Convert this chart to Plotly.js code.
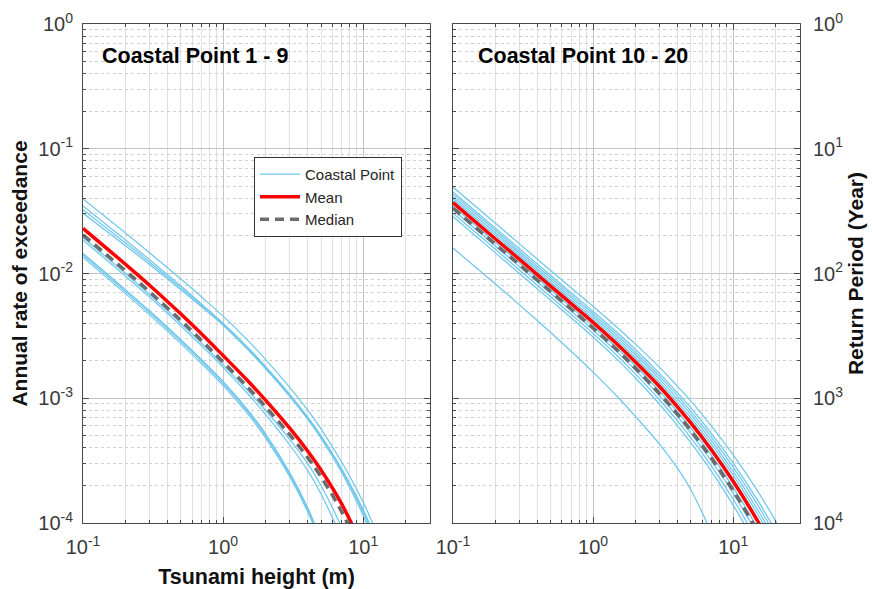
<!DOCTYPE html>
<html>
<head>
<meta charset="utf-8">
<script src="https://cdn.plot.ly/plotly-3.0.1.min.js"></script>
<style>html,body{margin:0;padding:0;background:#fff;}#chart{width:873px;height:589px;}</style>
</head>
<body>
<div id="chart"></div>
<script>
// Tsunami height samples (m)
const heights = [0.1, 0.2, 0.3, 0.5, 0.7, 1, 1.5, 2, 3, 4, 5, 7, 10, 15, 20, 25];

// Coastal points 1 - 9 : annual rate of exceedance
const cp1 = [0.0395, 0.0212, 0.01459, 0.00902, 0.0065, 0.00455, 0.00291, 0.00206, 0.001216, 0.000809, 0.000569, 0.00031, 0.000147, 0.0000511];
const cp2 = [0.03475, 0.01862, 0.01282, 0.00793, 0.00571, 0.0040, 0.00256, 0.00181, 0.00107, 0.000711, 0.0005, 0.000273, 0.000128, 0.0000438];
const cp3 = [0.03048, 0.01679, 0.01175, 0.00741, 0.00542, 0.00385, 0.00246, 0.00174, 0.00103, 0.000682, 0.000478, 0.000256, 0.000115, 0.0000369];
const cp4 = [0.0325, 0.01766, 0.01227, 0.00767, 0.00557, 0.00393, 0.00251, 0.00178, 0.00105, 0.000698, 0.000491, 0.000268, 0.000122, 0.0000409];
const cp5 = [0.0194, 0.01005, 0.00676, 0.00399, 0.00277, 0.00185, 0.001153, 0.000805, 0.000466, 0.000302, 0.0002, 0.0000923, 0.0000327];
const cp6 = [0.0185, 0.00957, 0.00644, 0.0038, 0.00264, 0.00177, 0.001086, 0.000746, 0.00042, 0.000265, 0.000171, 0.0000766];
const cp7 = [0.0141, 0.00724, 0.00485, 0.00286, 0.00199, 0.001324, 0.000782, 0.000507, 0.000244, 0.00013, 0.000071, 0.0000242];
const cp8 = [0.0145, 0.00746, 0.0050, 0.00295, 0.00205, 0.001364, 0.000806, 0.000522, 0.000251, 0.000134, 0.0000732, 0.0000249];
const cp9 = [0.0135, 0.00693, 0.00464, 0.00274, 0.0019, 0.001267, 0.000748, 0.000485, 0.000234, 0.000124, 0.000068, 0.0000232];
const meanA = [0.0230, 0.01191, 0.00802, 0.00473, 0.00329, 0.0022, 0.00138, 0.000971, 0.000573, 0.00038, 0.000266, 0.000143, 0.0000628];
const medianA = [0.0204, 0.01057, 0.00711, 0.0042, 0.00292, 0.00195, 0.001225, 0.000861, 0.000508, 0.000337, 0.000235, 0.000124, 0.0000527];

// Coastal points 10 - 20
const cp10 = [0.0493, 0.0254, 0.0172, 0.01052, 0.00764, 0.00547, 0.00366, 0.00273, 0.00176, 0.00125, 0.000948, 0.000597, 0.000351, 0.000179, 0.000105, 0.0000675];
const cp11 = [0.0451, 0.0232, 0.0157, 0.00962, 0.00698, 0.00499, 0.00333, 0.00247, 0.00157, 0.00111, 0.000836, 0.000521, 0.000302, 0.000151, 0.0000873, 0.0000551];
const cp12 = [0.0432, 0.0222, 0.0150, 0.0092, 0.00668, 0.00476, 0.00317, 0.00234, 0.00149, 0.00105, 0.000785, 0.000488, 0.00028, 0.000139, 0.0000794, 0.0000498];
const cp13 = [0.0413, 0.0212, 0.0144, 0.00881, 0.00639, 0.00455, 0.00302, 0.00223, 0.00141, 0.000989, 0.000738, 0.000456, 0.00026, 0.000127, 0.0000722, 0.000045];
const cp14 = [0.0395, 0.0203, 0.0138, 0.00843, 0.00611, 0.00435, 0.00288, 0.00212, 0.00133, 0.000931, 0.000693, 0.000426, 0.000242, 0.000117, 0.0000657, 0.0000406];
const cp15 = [0.0378, 0.0194, 0.0132, 0.00806, 0.00585, 0.00415, 0.00274, 0.00201, 0.00126, 0.000879, 0.000651, 0.000398, 0.000224, 0.000107, 0.0000598];
const cp16 = [0.0346, 0.0178, 0.0121, 0.00738, 0.00534, 0.00378, 0.00249, 0.00182, 0.00113, 0.000781, 0.000574, 0.000348, 0.000193, 0.0000905, 0.0000495];
const cp17 = [0.0324, 0.0167, 0.0113, 0.00691, 0.0050, 0.00353, 0.00232, 0.00169, 0.00104, 0.000715, 0.000523, 0.000314, 0.000173, 0.0000796, 0.000043];
const cp18 = [0.0304, 0.0157, 0.0106, 0.00649, 0.00469, 0.00331, 0.00217, 0.00157, 0.000963, 0.000658, 0.000479, 0.000286, 0.000155, 0.0000707, 0.0000376];
const cp19 = [0.0286, 0.0147, 0.00995, 0.00609, 0.0044, 0.0031, 0.00203, 0.00146, 0.000889, 0.000604, 0.000438, 0.000259, 0.000139, 0.0000625, 0.0000328];
const cp20 = [0.016, 0.00828, 0.00558, 0.00335, 0.00237, 0.00162, 0.001023, 0.000719, 0.000425, 0.000275, 0.000184, 0.0000822, 0.0000282];
const meanB = [0.0370, 0.0190, 0.0129, 0.00789, 0.00571, 0.00406, 0.00268, 0.00196, 0.00123, 0.000853, 0.000631, 0.000385, 0.000216, 0.000103, 0.000057, 0.0000349];
const medianB = [0.0335, 0.0172, 0.0117, 0.00714, 0.00517, 0.00366, 0.00241, 0.00175, 0.00108, 0.000747, 0.000548, 0.00033, 0.000182, 0.0000849, 0.0000461];

const groupA = [cp1, cp2, cp3, cp4, cp5, cp6, cp7, cp8, cp9];
const groupB = [cp10, cp11, cp12, cp13, cp14, cp15, cp16, cp17, cp18, cp19, cp20];

// Tick labels
const xTickVals = [0.1, 1, 10];
const xTickText = ['10<sup>-1</sup>', '10<sup>0</sup>', '10<sup>1</sup>'];
const xMinorVals = [0.2,0.3,0.4,0.5,0.6,0.7,0.8,0.9,2,3,4,5,6,7,8,9,20];
const yTickVals = [0.0001, 0.001, 0.01, 0.1, 1];
const yTickText = ['10<sup>-4</sup>', '10<sup>-3</sup>', '10<sup>-2</sup>', '10<sup>-1</sup>', '10<sup>0</sup>'];
// return period (year) = 1 / annual rate, labels at the same gridlines
const rpTickText = ['10<sup>4</sup>', '10<sup>3</sup>', '10<sup>2</sup>', '10<sup>1</sup>', '10<sup>0</sup>'];
const yMinorVals = [0.0002,0.0003,0.0004,0.0005,0.0006,0.0007,0.0008,0.0009,0.002,0.003,0.004,0.005,0.006,0.007,0.008,0.009,0.02,0.03,0.04,0.05,0.06,0.07,0.08,0.09,0.2,0.3,0.4,0.5,0.6,0.7,0.8,0.9];

const CYAN = '#6fc7ec', RED = '#ff0000', GRAY = '#6b6b6b';
const traces = [];
function addGroup(group, mean, median, xa, ya, legend) {
  group.forEach((ys, i) => {
    traces.push({x: heights.slice(0, ys.length), y: ys, xaxis: xa, yaxis: ya, mode: 'lines',
      line: {color: CYAN, width: 1.25, shape: 'spline', smoothing: 1},
      name: 'Coastal Point', legendgroup: 'cp', showlegend: legend && i === 0, hoverinfo: 'skip'});
  });
  traces.push({x: heights.slice(0, mean.length), y: mean, xaxis: xa, yaxis: ya, mode: 'lines',
    line: {color: RED, width: 3.5, shape: 'spline', smoothing: 1},
    name: 'Mean', legendgroup: 'mean', showlegend: legend, hoverinfo: 'skip'});
  traces.push({x: heights.slice(0, median.length), y: median, xaxis: xa, yaxis: ya, mode: 'lines',
    line: {color: GRAY, width: 3.5, dash: '9px,6px', shape: 'spline', smoothing: 1},
    name: 'Median', legendgroup: 'median', showlegend: legend, hoverinfo: 'skip'});
}
addGroup(groupA, meanA, medianA, 'x', 'y', true);
addGroup(groupB, meanB, medianB, 'x2', 'y2', false);

const FONT = 'Liberation Sans, Arial, Helvetica, sans-serif';
const axisCommon = {
  type: 'log', showline: true, linecolor: '#4a4a4a', linewidth: 1, mirror: 'ticks',
  ticks: 'inside', ticklen: 6, tickcolor: '#4a4a4a', tickwidth: 1,
  showgrid: true, gridcolor: '#c4c4c4', gridwidth: 1, zeroline: false,
  tickfont: {size: 20, color: '#3a3a3a', family: FONT}, tickmode: 'array'
};
function xAxis(domain, extra) {
  return Object.assign({}, axisCommon, {
    domain: domain, range: [-1, Math.log10(30)], tickvals: xTickVals, ticktext: xTickText,
    ticklabelstandoff: 6,
    minor: {tickmode: 'array', tickvals: xMinorVals, ticks: 'inside', ticklen: 3, tickcolor: '#4a4a4a',
      showgrid: true, gridcolor: '#e0e0e0', gridwidth: 1}
  }, extra || {});
}
function yAxis(extra) {
  return Object.assign({}, axisCommon, {
    range: [-4, 0], tickvals: yTickVals, ticktext: yTickText, ticklabelstandoff: 5,
    minor: {tickmode: 'array', tickvals: yMinorVals, ticks: 'inside', ticklen: 3, tickcolor: '#4a4a4a',
      showgrid: true, gridcolor: '#d0d0d0', gridwidth: 1, griddash: 'dot'}
  }, extra || {});
}

const layout = {
  width: 873, height: 589,
  margin: {l: 83, r: 73, t: 24, b: 66, pad: 0},
  paper_bgcolor: '#ffffff', plot_bgcolor: '#ffffff',
  font: {family: FONT, color: '#262626'},
  showlegend: true,
  legend: {x: 0.2385, y: 0.7335, xanchor: 'left', yanchor: 'top', bgcolor: '#ffffff',
    bordercolor: '#333333', borderwidth: 1, font: {size: 15, color: '#262626', family: FONT},
    tracegroupgap: 0, itemwidth: 40, traceorder: 'normal'},
  xaxis: xAxis([0, 0.484], {anchor: 'y',
    title: {text: '<b>Tsunami height (m)</b>', font: {size: 21.5, color: '#111111', family: FONT}, standoff: 12}}),
  xaxis2: xAxis([0.516, 1], {anchor: 'y2'}),
  yaxis: yAxis({anchor: 'x', domain: [0, 1],
    title: {text: '<b>Annual rate of exceedance</b>', font: {size: 21, color: '#111111', family: FONT}, standoff: 4}}),
  yaxis2: yAxis({anchor: 'x2', domain: [0, 1], side: 'right', ticktext: rpTickText, ticklabelstandoff: 8,
    title: {text: '<b>Return Period (Year)</b>', font: {size: 21, color: '#111111', family: FONT}, standoff: 6}}),
  annotations: [
    {text: '<b>Coastal Point 1 - 9</b>', xref: 'x domain', yref: 'y domain', x: 0.05, y: 0.936,
      xanchor: 'left', yanchor: 'middle', showarrow: false, font: {size: 21.5, color: '#000000', family: FONT}},
    {text: '<b>Coastal Point 10 - 20</b>', xref: 'x2 domain', yref: 'y2 domain', x: 0.066, y: 0.936,
      xanchor: 'left', yanchor: 'middle', showarrow: false, font: {size: 21.5, color: '#000000', family: FONT}}
  ]
};

Plotly.newPlot('chart', traces, layout, {staticPlot: true, displayModeBar: false});
</script>
</body>
</html>
